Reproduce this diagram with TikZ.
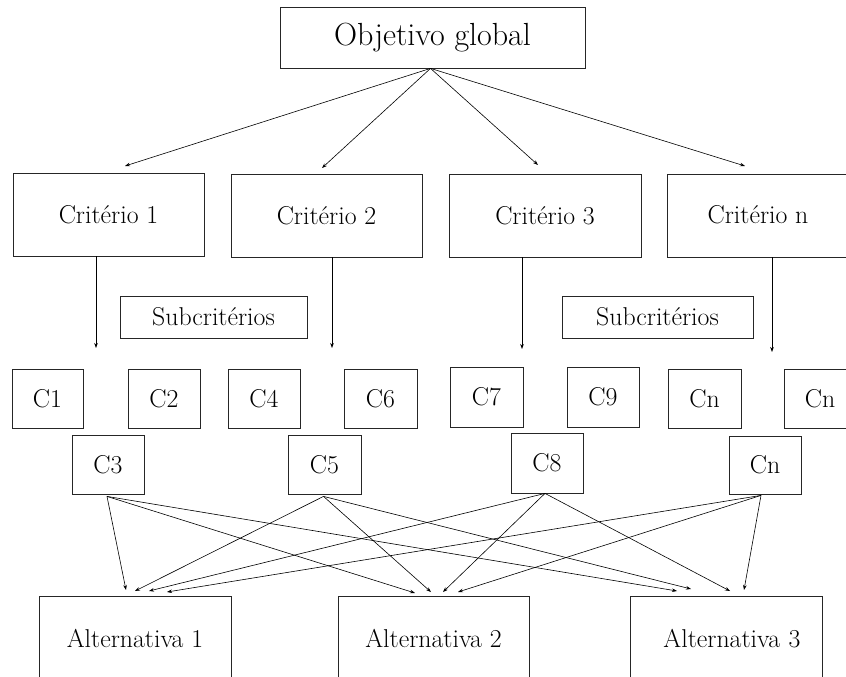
\documentclass[tikz,border=0pt]{standalone}
\usetikzlibrary{arrows.meta}
\begin{document}
\begin{tikzpicture}[x=1pt,y=-1pt,
  box/.style={draw=black!85,line width=0.8pt,inner sep=0pt,font=\fontsize{25.8}{30}\selectfont},
  conn/.style={line width=0.6pt,-{Stealth[length=5pt,width=3.6pt]}}]
\clip (0,0) rectangle (846,677);
\fill[white] (0,0) rectangle (846,677);
% top
\node[box,minimum width=305,minimum height=61,font=\fontsize{32}{38}\selectfont] (obj) at (432.5,37.5) {Objetivo global};
% criteria
\node[box,minimum width=191,minimum height=83] (cr1) at (108.5,214.5) {Critério 1};
\node[box,minimum width=191,minimum height=83] (cr2) at (326.5,215.5) {Critério 2};
\node[box,minimum width=192,minimum height=83] (cr3) at (545,215.5) {\raisebox{-2pt}{Critério 3}};
\node[box,minimum width=182,minimum height=83] (crn) at (758,215.5) {\raisebox{2pt}{Critério n}};
% subcriteria labels
\node[box,minimum width=187,minimum height=42] (sub1) at (213.5,317) {Subcritérios};
\node[box,minimum width=191,minimum height=42] (sub2) at (657.5,317) {Subcritérios};
% sub-criteria boxes
\node[box,minimum width=71,minimum height=59] (k1) at (47.5,398.5) {C1};
\node[box,minimum width=72,minimum height=59] (k2) at (164,398.5) {C2};
\node[box,minimum width=72,minimum height=59] (k4) at (264,398.5) {C4};
\node[box,minimum width=73,minimum height=59] (k6) at (380.5,398.5) {C6};
\node[box,minimum width=72,minimum height=59] (k3) at (108,464.5) {C3};
\node[box,minimum width=73,minimum height=59] (k5) at (324.5,464.5) {C5};
\node[box,minimum width=73,minimum height=60] (k7) at (486.5,397) {C7};
\node[box,minimum width=72,minimum height=60] (k9) at (603,397) {C9};
\node[box,minimum width=73,minimum height=59] (kna) at (704.5,398.5) {Cn};
\node[box,minimum width=72,minimum height=59] (knb) at (820,398.5) {Cn};
\node[box,minimum width=72,minimum height=60] (k8) at (547,463) {C8};
\node[box,minimum width=72,minimum height=58] (knc) at (765,465) {Cn};
% alternatives
\node[box,minimum width=192,minimum height=84] (a1) at (135,638) {Alternativa 1};
\node[box,minimum width=191,minimum height=84] (a2) at (433.5,638.5) {Alternativa 2};
\node[box,minimum width=192,minimum height=84,text width=192,align=center] (a3) at (726,638.5) {\hspace*{12pt}Alternativa 3};
% free ends
\coordinate (t1) at (125,166);
\coordinate (t2) at (322,168);
\coordinate (t3) at (538,165);
\coordinate (t4) at (745,166);
\coordinate (v1) at (96,348);
\coordinate (v2) at (332,348);
\coordinate (v3) at (522,349);
\coordinate (v4) at (772,352);
\foreach \t in {t1,t2,t3,t4} \draw[conn] ([xshift=-2pt]obj.south) -- (\t);
\foreach \c/\v in {cr1/v1,cr2/v2,cr3/v3,crn/v4} \draw[conn] (\c.south -| \v) -- (\v);
% tips on alternatives
\coordinate (p11) at (126,590);
\coordinate (p12) at (135,591);
\coordinate (p13) at (149,591);
\coordinate (p14) at (167,592);
\coordinate (p21) at (415,593);
\coordinate (p22) at (431,592);
\coordinate (p23) at (443,592);
\coordinate (p24) at (458,592);
\coordinate (p31) at (677,591);
\coordinate (p32) at (691,589);
\coordinate (p33) at (730,591);
\coordinate (p34) at (744,590);
\coordinate (s1) at ([xshift=-1pt,yshift=-2pt]k3.south);
\coordinate (s2) at ([xshift=-1pt,yshift=-2pt]k5.south);
\coordinate (s3) at ([xshift=-2pt]k8.south);
\coordinate (s4) at ([xshift=-4pt,yshift=-1pt]knc.south);
\foreach \s/\i in {s1/1,s2/2,s3/3,s4/4}
  \foreach \a in {1,2,3} \draw[conn] (\s) -- (p\a\i);
\end{tikzpicture}
\end{document}
